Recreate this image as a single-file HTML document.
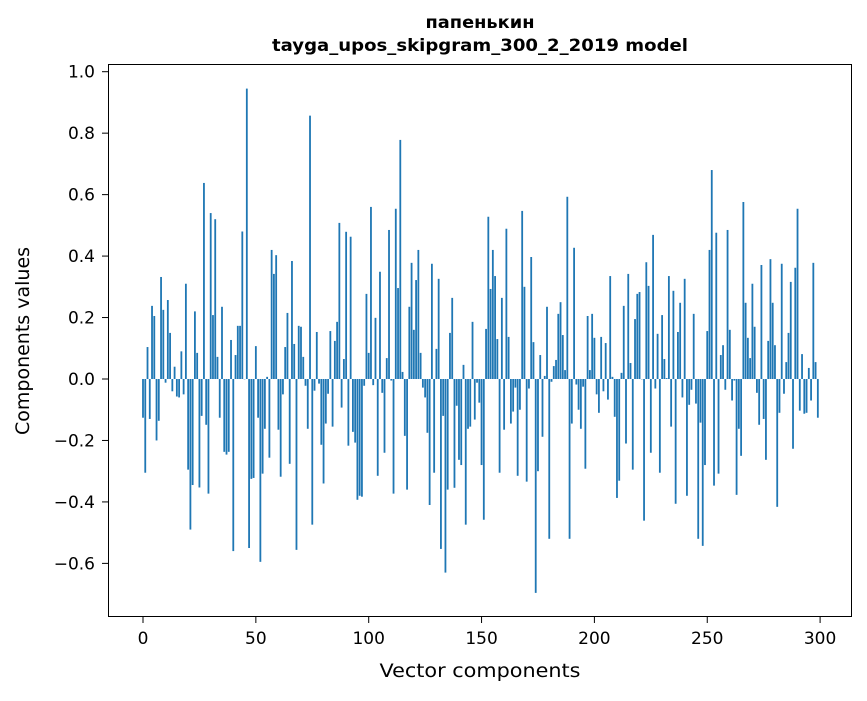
<!DOCTYPE html>
<html><head><meta charset="utf-8"><style>
body{margin:0;background:#fff;}
svg text{font-family:"DejaVu Sans","Liberation Sans",sans-serif;}
</style></head><body>
<svg id="chart" width="867" height="696" xmlns="http://www.w3.org/2000/svg">
<rect width="867" height="696" fill="#fff"/>
<text x="480" y="28" text-anchor="middle" font-size="17" font-weight="bold" textLength="109" lengthAdjust="spacingAndGlyphs">папенькин</text>
<text x="480" y="51" text-anchor="middle" font-size="17" font-weight="bold" textLength="416" lengthAdjust="spacingAndGlyphs">tayga_upos_skipgram_300_2_2019 model</text>
<g id="bars"></g>
<g id="xticks"></g>
<g id="yticks"></g>
<rect x="108.5" y="64.5" width="743" height="552" fill="none" stroke="#000" stroke-width="1"/>
<text x="480" y="677" text-anchor="middle" font-size="19" textLength="201" lengthAdjust="spacingAndGlyphs">Vector components</text>
<text transform="translate(29,341) rotate(-90)" text-anchor="middle" font-size="19">Components values</text>
</svg>
<script>
const values = [
-0.126,-0.305,0.104,-0.13,0.238,0.205,-0.2,-0.136,0.332,0.225,
-0.012,0.257,0.15,-0.04,0.04,-0.057,-0.06,0.09,-0.05,0.31,
-0.295,-0.49,-0.345,0.22,0.085,-0.353,-0.12,0.638,-0.149,-0.373,
0.54,0.208,0.52,0.072,-0.126,0.235,-0.237,-0.246,-0.237,0.127,
-0.56,0.078,0.173,0.173,0.48,0.0,0.945,-0.55,-0.325,-0.322,
0.107,-0.126,-0.595,-0.308,-0.162,0.007,-0.256,0.42,0.342,0.403,
-0.165,-0.318,-0.05,0.104,0.215,-0.276,0.384,0.114,-0.556,0.173,
0.17,0.072,-0.022,-0.162,0.857,-0.474,-0.038,0.153,-0.015,-0.214,
-0.34,-0.145,-0.048,0.156,-0.155,0.124,0.186,0.508,-0.093,0.065,
0.479,-0.217,0.463,-0.172,-0.207,-0.393,-0.38,-0.383,-0.022,0.277,
0.085,0.56,-0.02,0.199,-0.315,0.349,-0.045,-0.24,0.068,0.485,
-0.005,-0.373,0.554,0.296,0.778,0.023,-0.185,-0.36,0.235,0.378,
0.16,0.322,0.42,0.085,-0.028,-0.06,-0.175,-0.41,0.375,-0.305,
0.098,0.326,-0.553,-0.12,-0.63,-0.36,0.15,0.264,-0.354,-0.087,
-0.263,-0.28,0.046,-0.474,-0.162,-0.155,0.186,-0.132,-0.012,-0.077,
-0.28,-0.458,0.163,0.528,0.293,0.42,0.335,0.13,-0.305,0.264,
-0.165,0.489,0.137,-0.145,-0.106,-0.028,-0.315,-0.1,0.547,0.3,
-0.334,-0.031,0.397,0.12,-0.696,-0.3,0.078,-0.188,0.01,0.235,
-0.52,-0.009,0.042,0.062,0.212,0.25,0.143,0.029,0.593,-0.52,
-0.145,0.427,-0.018,-0.1,-0.162,-0.025,-0.292,0.205,0.029,0.212,
0.134,-0.05,-0.11,0.137,-0.04,0.117,-0.067,0.335,0.007,-0.123,
-0.387,-0.331,0.02,0.238,-0.21,0.342,0.052,-0.295,0.195,0.277,
0.283,0.0,-0.461,0.38,0.303,-0.24,0.469,-0.031,0.147,-0.305,
0.208,0.065,0.003,0.335,-0.155,0.287,-0.406,0.153,0.248,-0.06,
0.326,-0.38,-0.084,-0.035,0.212,-0.08,-0.52,-0.142,-0.543,-0.28,
0.156,0.42,0.68,-0.347,0.476,-0.308,0.078,0.11,-0.035,0.485,
0.16,-0.07,-0.005,-0.377,-0.162,-0.25,0.576,0.248,0.134,0.068,
0.31,0.17,-0.045,-0.149,0.371,-0.13,-0.263,0.124,0.39,0.248,
0.11,-0.416,-0.11,0.375,-0.048,0.055,0.15,0.316,-0.227,0.362,
0.554,-0.103,0.081,-0.113,-0.11,0.036,-0.07,0.378,0.055,-0.126
];
const xTicks = [0,50,100,150,200,250,300];
const yTicks = [-0.6,-0.4,-0.2,0.0,0.2,0.4,0.6,0.8,1.0];
const yTickLabels = ["−0.6","−0.4","−0.2","0.0","0.2","0.4","0.6","0.8","1.0"];

const NS = "http://www.w3.org/2000/svg";
function xScale(i){ return 143 + i * 2.257; }
function yScale(v){ return 379 - v * 307.3; }

const barsG = document.getElementById('bars');
values.forEach(function(v, i){
  const r = document.createElementNS(NS, 'rect');
  const w = 0.8 * 2.257;
  const y0 = yScale(0), y1 = yScale(v);
  r.setAttribute('x', xScale(i) - w/2);
  r.setAttribute('y', Math.min(y0, y1));
  r.setAttribute('width', w);
  r.setAttribute('height', Math.max(Math.abs(y1 - y0), 0.3));
  r.setAttribute('fill', '#1f77b4');
  
  
  barsG.appendChild(r);
});

const xg = document.getElementById('xticks');
xTicks.forEach(function(t){
  const x = xScale(t);
  const l = document.createElementNS(NS, 'line');
  l.setAttribute('x1', x); l.setAttribute('x2', x);
  l.setAttribute('y1', 617); l.setAttribute('y2', 623);
  l.setAttribute('stroke', '#000');
  
  
  xg.appendChild(l);
  const tx = document.createElementNS(NS, 'text');
  tx.setAttribute('x', x); tx.setAttribute('y', 644);
  tx.setAttribute('text-anchor', 'middle');
  tx.setAttribute('font-size', '17');
  tx.textContent = String(t);
  
  
  xg.appendChild(tx);
});

const yg = document.getElementById('yticks');
yTicks.forEach(function(t, i){
  const y = yScale(t);
  const l = document.createElementNS(NS, 'line');
  l.setAttribute('x1', 102); l.setAttribute('x2', 108);
  l.setAttribute('y1', y); l.setAttribute('y2', y);
  l.setAttribute('stroke', '#000');
  
  
  yg.appendChild(l);
  const tx = document.createElementNS(NS, 'text');
  tx.setAttribute('x', 95); tx.setAttribute('y', y + 6);
  tx.setAttribute('text-anchor', 'end');
  tx.setAttribute('font-size', '17');
  tx.textContent = yTickLabels[i];
  
  
  yg.appendChild(tx);
});
</script>
</body></html>
